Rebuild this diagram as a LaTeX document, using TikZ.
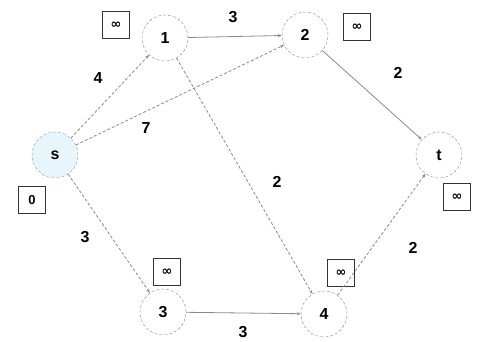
\documentclass[tikz,border=0pt]{standalone}
\usepackage{fontspec}
\setmainfont{Liberation Sans}
\newfontfamily\symfont{DejaVu Sans}
\usetikzlibrary{arrows.meta,positioning}
\definecolor{edgegray}{HTML}{8A8A8A}
\definecolor{srcfill}{HTML}{E6F6FA}

\begin{document}
\begin{tikzpicture}[x=1bp,y=-1bp,
    vertex/.style={circle, draw=edgegray, densely dashed, minimum size=46bp, inner sep=0pt, font=\fontsize{16}{18}\selectfont\bfseries},
    distbox/.style={draw=black!80, thick, minimum size=27bp, inner sep=0pt, font=\fontsize{13}{14}\selectfont\bfseries},
    weight/.style={font=\fontsize{16}{18}\selectfont\bfseries},
    link/.style={draw=edgegray, thick, -{Stealth[length=4pt,width=3pt]}}]
  \useasboundingbox (0,0) rectangle (480,341);
  % vertices
  \node[vertex, fill=srcfill, draw=cyan!30!edgegray] (s) at (55,155) {s};
  \node[vertex] (v1) at (165,38) {1};
  \node[vertex] (v2) at (305,35) {2};
  \node[vertex] (t) at (439,155) {t};
  \node[vertex] (v3) at (163,312) {3};
  \node[vertex] (v4) at (324,314) {4};
  % distance labels
  \node[distbox] (d1) at (116,25) {\symfont\bfseries ∞};
  \node[distbox] (d2) at (357,27) {\symfont\bfseries ∞};
  \node[distbox] (ds) at (32,200) {0};
  \node[distbox] (dt) at (457,197) {\symfont\bfseries ∞};
  \node[distbox] (d3) at (167,272) {\symfont\bfseries ∞};
  \node[distbox] (d4) at (341,273) {\symfont\bfseries ∞};
  % edges
  \draw[link, densely dashed] (s) -- (v1);
  \draw[link, densely dashed] (s) -- (v2);
  \draw[link] (v1) -- (v2);
  \draw[link, densely dashed] (v1) -- (v4);
  \draw[link] (v2) -- (t);
  \draw[link, densely dashed] (s) -- (v3);
  \draw[link] (v3) -- (v4);
  \draw[link, densely dashed] (v4) -- (t);
  % weights
  \node[weight] (w12) at (233,17) {3};
  \node[weight] (ws1) at (98,78) {4};
  \node[weight] (ws2) at (146,128) {7};
  \node[weight] (w2t) at (398,73) {2};
  \node[weight] (w14) at (277,182) {2};
  \node[weight] (ws3) at (85,237) {3};
  \node[weight] (w4t) at (413,248) {2};
  \node[weight] (w34) at (243,332) {3};
\end{tikzpicture}
\end{document}
